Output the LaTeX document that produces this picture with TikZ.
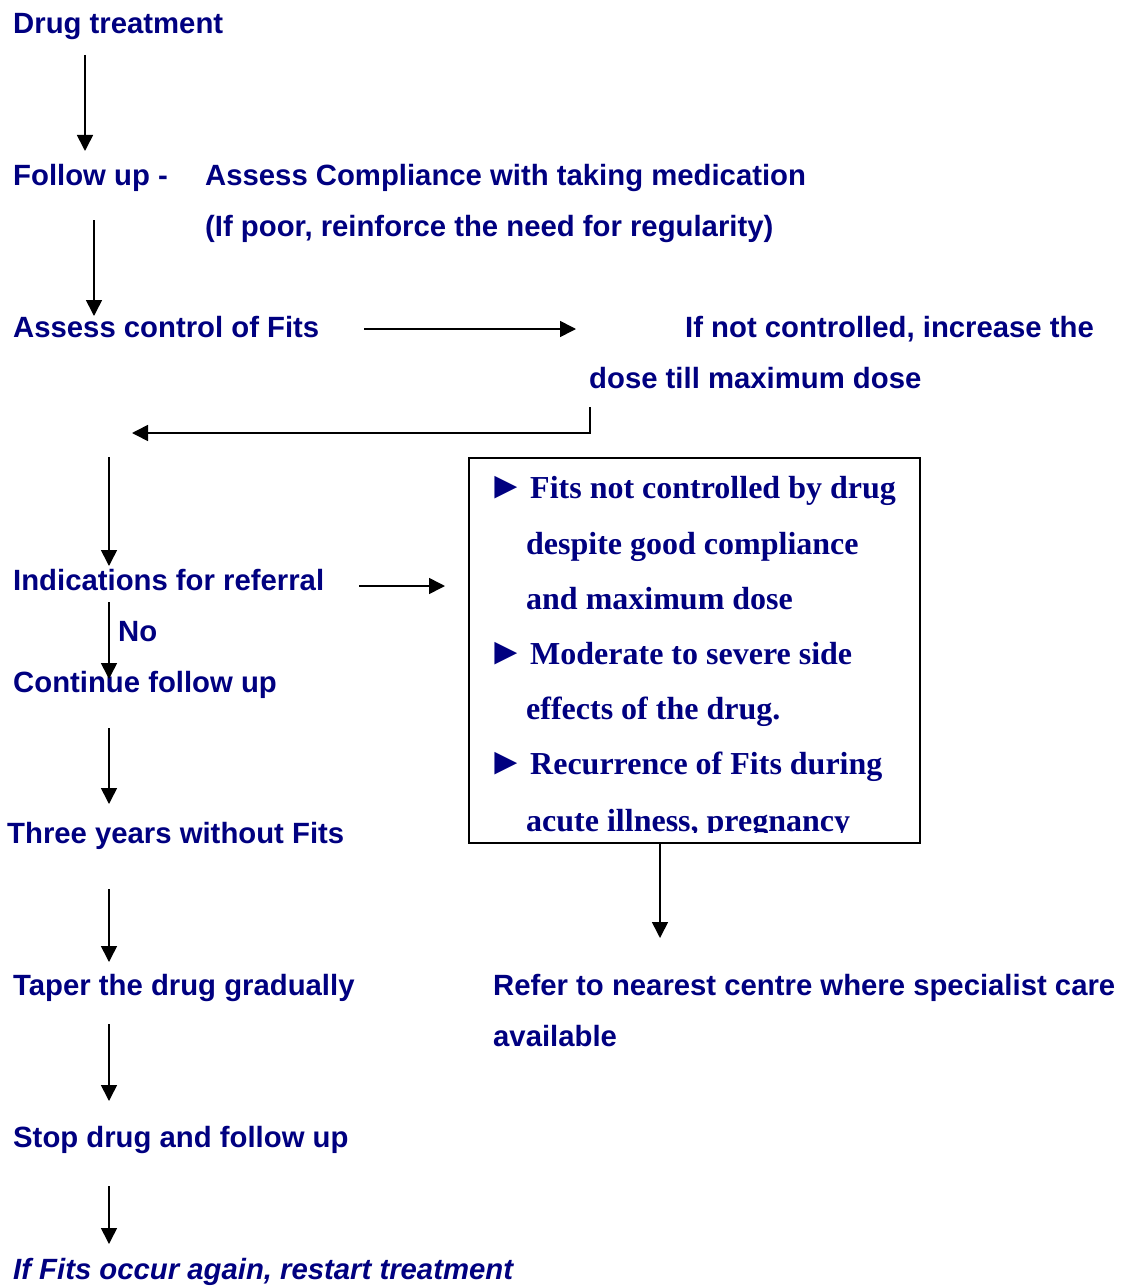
\documentclass[tikz,border=0pt]{standalone}
\usepackage{fontspec}
\setmainfont{Liberation Sans}
\newfontfamily\boxfont{Liberation Serif}
\usetikzlibrary{arrows.meta}
\definecolor{navy}{RGB}{0,0,128}
\newcommand{\bul}{{\fontsize{38}{38}\selectfont ►}}
\tikzset{
  lbl/.style={anchor=base west, inner sep=0pt, text=navy, font=\fontsize{29.3}{29.3}\selectfont\bfseries},
  blbl/.style={anchor=base west, inner sep=0pt, text=navy, font=\boxfont\fontsize{32}{32}\selectfont\bfseries},
  arr/.style={line width=1.6pt, -{Triangle[length=16pt,width=16pt]}},
}
\begin{document}
\begin{tikzpicture}[x=1pt,y=-1pt]
\useasboundingbox (0,0) rectangle (1124,1287);
% texts
\node[lbl] (drug) at (13,34) {Drug treatment};
\node[lbl] (follow) at (13,185) {Follow up -};
\node[lbl] (compl) at (205,185) {Assess Compliance with taking medication};
\node[lbl] (poor) at (205,236) {(If poor, reinforce the need for regularity)};
\node[lbl] (control) at (13,337) {Assess control of Fits};
\node[lbl] (notc) at (685,337) {If not controlled, increase the};
\node[lbl] (dose) at (589,388) {dose till maximum dose};
\node[lbl] (ind) at (13,590) {Indications for referral};
\node[lbl] (no) at (118,641) {No};
\node[lbl] (cont) at (13,692) {Continue follow up};
\node[lbl] (three) at (7,843) {Three years without Fits};
\node[lbl] (taper) at (13,995) {Taper the drug gradually};
\node[lbl] (refer) at (493,995) {Refer to nearest centre where specialist care};
\node[lbl] (avail) at (493,1046) {available};
\node[lbl] (stop) at (13,1147) {Stop drug and follow up};
\node[lbl, font=\fontsize{29.3}{29.3}\selectfont\bfseries\itshape] (again) at (13,1279) {If Fits occur again, restart treatment};
% box
\draw[line width=1.6pt] (469,458) rectangle (920,843);
\coordinate (boxbot) at (660,843);
\begin{scope}
\clip (470,459) rectangle (919,832);
\node[blbl] (t1) at (487,498) {\bul};
\node[blbl] (b1) at (530,498) {Fits not controlled by drug};
\node[blbl] (b2) at (526,554) {despite good compliance};
\node[blbl] (b3) at (526,609) {and maximum dose};
\node[blbl] (t4) at (487,664) {\bul};
\node[blbl] (b4) at (530,664) {Moderate to severe side};
\node[blbl] (b5) at (526,719) {effects of the drug.};
\node[blbl] (t6) at (487,774) {\bul};
\node[blbl] (b6) at (530,774) {Recurrence of Fits during};
\node[blbl] (b7) at (526,831) {acute illness, pregnancy};
\end{scope}
% connector end points
\coordinate (a1s) at (85,55);   \coordinate (a1e) at (85,151);
\coordinate (a2s) at (94,220);  \coordinate (a2e) at (94,316);
\coordinate (a3s) at (364,329); \coordinate (a3e) at (576,329);
\coordinate (a4s) at (590,407); \coordinate (a4c) at (590,433); \coordinate (a4e) at (132,433);
\coordinate (a5s) at (109,457); \coordinate (a5e) at (109,566);
\coordinate (a6s) at (359,586); \coordinate (a6e) at (445,586);
\coordinate (a7s) at (109,602); \coordinate (a7e) at (109,679);
\coordinate (a8s) at (109,728); \coordinate (a8e) at (109,804);
\coordinate (a9s) at (109,889); \coordinate (a9e) at (109,962);
\coordinate (a10s) at (109,1024); \coordinate (a10e) at (109,1101);
\coordinate (a11s) at (109,1186); \coordinate (a11e) at (109,1244);
\coordinate (a12e) at (660,938);
\draw[arr] (a1s) -- (a1e);
\draw[arr] (a2s) -- (a2e);
\draw[arr] (a3s) -- (a3e);
\draw[arr] (a4s) -- (a4c) -- (a4e);
\draw[arr] (a5s) -- (a5e);
\draw[arr] (a6s) -- (a6e);
\draw[arr] (a7s) -- (a7e);
\draw[arr] (a8s) -- (a8e);
\draw[arr] (a9s) -- (a9e);
\draw[arr] (a10s) -- (a10e);
\draw[arr] (a11s) -- (a11e);
\draw[arr] (boxbot) -- (a12e);
\end{tikzpicture}
\end{document}
